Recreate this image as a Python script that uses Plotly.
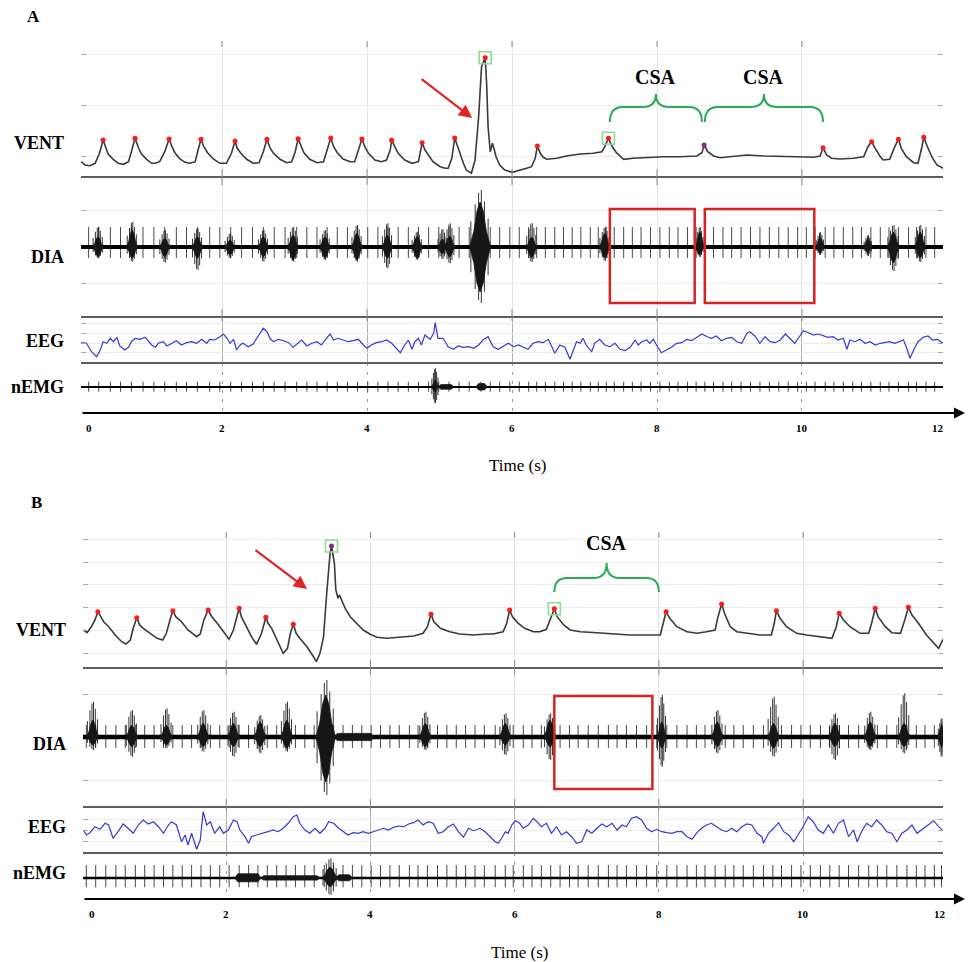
import plotly.graph_objects as go

W, H = 968, 962
SERIF = "Liberation Serif, Times New Roman, Times, serif"

# ================= DATA =================
grid_times = [2, 4, 6, 8, 10]
tick_text = ["0", "2", "4", "6", "8", "10", "12"]
tick_pos_a = [0.17, 2, 4, 6, 8, 10, 11.88]
tick_pos_b = [0.14, 2, 4, 6, 8, 10, 11.90]
span_a = [0.055, 11.945]
span_b = [0.014, 11.94]

# ---------- Panel A ----------
vent_a_t = [0.06,0.11,0.18,0.25,0.31,0.36,0.40,0.43,0.50,0.57,0.64,0.71,0.75,0.80,0.85,0.89,0.96,1.03,1.08,1.14,
            1.21,1.27,1.31,1.35,1.42,1.49,1.56,1.63,1.67,1.71,1.75,1.80,1.88,1.97,2.06,2.13,2.18,2.21,2.26,2.34,
            2.43,2.51,2.57,2.62,2.66,2.71,2.80,2.89,2.96,3.01,3.05,3.09,3.13,3.21,3.31,3.40,3.45,3.50,3.54,3.59,
            3.67,3.77,3.83,3.88,3.93,3.97,4.02,4.11,4.20,4.27,4.32,4.34,4.39,4.43,4.52,4.62,4.71,4.74,4.76,4.80,
            4.85,4.91,5.01,5.08,5.12,5.17,5.21,5.25,5.28,5.33,5.37,5.44,5.49,5.54,5.58,5.63,5.65,5.67,5.70,5.72,
            5.73,5.75,5.78,5.83,5.90,6.00,6.09,6.20,6.27,6.32,6.35,6.39,6.43,6.48,6.62,6.75,6.94,7.12,7.24,7.28,
            7.33,7.37,7.44,7.54,7.67,7.86,8.09,8.32,8.55,8.62,8.65,8.70,8.78,8.87,9.05,9.24,9.47,9.70,9.93,10.16,
            10.25,10.29,10.34,10.41,10.52,10.71,10.85,10.91,10.96,11.01,11.08,11.12,11.21,11.28,11.33,11.37,11.44,11.54,11.60,11.65,
            11.68,11.73,11.79,11.86,11.95]
vent_a_v = [15.3,12,11.3,13.7,23.7,37,28.7,23,17.7,13.7,12.7,15.3,25.3,38.7,28.7,23,17.7,13.7,13.7,15.3,
            25.3,38,30.3,24.3,18,14.7,13.7,15.3,27,37.7,30.3,24.3,18,13.7,13.7,23.7,36,28.7,23.7,17.7,
            13.7,14.3,25.3,37.7,29.7,23.7,17.7,14.3,15.3,25.3,38.3,30.3,24.3,17.7,14.3,15.3,27,39,30.3,24.3,
            18,15.3,15.3,27,38,30.3,23.7,17,15.3,17,27,36.7,30.3,23.7,17,13.7,15.3,25.3,34.3,27,
            22,15.3,10.3,8.7,8.7,18.7,39,30.3,25.3,13.7,7,3.7,17,60.3,110.3,119.3,93.7,50.3,25.3,30.3,
            33.7,28.7,20.3,12,7,4.7,6.3,8.7,10.3,18.7,31,23.7,19.7,17.7,18.7,21,23,23.7,25.3,30.3,
            38.7,32,24.3,17.7,18.7,19.7,20.3,20.3,21,24.3,32,25.3,21,19.3,20.3,22,21,20.3,20.3,19.7,
            21,29.3,22,18.7,18,18.7,20.3,30.3,35.3,28.7,20.3,17,17.7,30.3,37.7,28.7,20.3,14.3,13.7,28.7,
            39.7,30.3,20.3,12,8.7]
vent_a_peaks = [0.36,0.80,1.27,1.71,2.18,2.62,3.05,3.50,3.93,4.34,4.76,5.21,5.63,6.35,7.33,10.29,10.96,11.33,11.68]
vent_a_purple = [8.65]
vent_a_boxed = [5.63, 7.33]

dia_a_burst_t = [0.29,0.76,1.21,1.66,2.11,2.57,2.98,3.42,3.86,4.28,4.69,5.04,5.14,5.56,6.27,7.28,8.59,10.25,10.91,11.26,11.63]
dia_a_burst_w = [0.09,0.09,0.09,0.09,0.09,0.09,0.09,0.09,0.09,0.09,0.09,0.08,0.09,0.17,0.09,0.09,0.07,0.07,0.07,0.10,0.09]
dia_a_core_up = [10.3,17,8.7,10.3,7,10.3,12,10.3,13.7,12,10.3,8,11,45,10,13.7,15,10,8.3,15,15]
dia_a_core_dn = [9.7,11.3,9.7,11.3,8,9.7,13,11.3,13,11.3,11.3,7,10,45,11,11,8,6,6,16,11]
dia_a_hair_up = [20.3,25.3,17,18.7,13.7,17,20.3,17,22,23.7,15.3,18,23.7,57,24,20,20,15,12,22,22]
dia_a_hair_dn = [11.3,14.7,15.7,23,11.3,14.7,14.7,13,14.7,21.3,13,12,16.3,56,15,14,10,8,9,24,15]
dia_a_bands = []

beats_a = [0.16,0.30,0.46,0.60,0.75,0.91,1.06,1.21,1.37,1.51,1.66,1.83,1.97,2.12,2.27,2.42,2.57,2.72,2.87,3.03,
           3.17,3.31,3.45,3.59,3.73,3.87,4.01,4.15,4.29,4.43,4.57,4.71,4.85,4.99,5.13,5.27,5.41,5.57,5.70,5.83,
           5.97,6.10,6.23,6.34,6.46,6.59,6.71,6.83,6.95,7.08,7.19,7.30,7.41,7.54,7.66,7.78,7.91,8.04,8.17,8.29,
           8.42,8.54,8.66,8.78,8.91,9.03,9.16,9.29,9.42,9.55,9.68,9.81,9.94,10.06,10.18,10.32,10.44,10.57,10.70,10.82,
           10.95,11.08,11.20,11.33,11.47,11.58,11.71,11.83]
dia_a_spike = [20, 11]
emg_a_spike = [5.3, 4.7]

eeg_a_t = [0.06,0.13,0.20,0.27,0.32,0.36,0.41,0.46,0.50,0.55,0.59,0.66,0.71,0.75,0.80,0.87,0.94,0.98,1.03,1.08,
           1.12,1.19,1.24,1.31,1.37,1.44,1.51,1.58,1.65,1.72,1.79,1.83,1.90,1.97,2.02,2.07,2.11,2.16,2.20,2.25,
           2.29,2.36,2.43,2.48,2.52,2.57,2.62,2.66,2.71,2.78,2.85,2.92,2.98,3.05,3.10,3.17,3.24,3.31,3.37,3.44,
           3.49,3.54,3.60,3.67,3.74,3.81,3.88,3.95,4.00,4.06,4.13,4.20,4.27,4.34,4.41,4.46,4.52,4.57,4.62,4.66,
           4.71,4.75,4.80,4.87,4.92,4.94,4.98,5.05,5.12,5.19,5.26,5.33,5.40,5.47,5.54,5.60,5.67,
           5.74,5.81,5.88,5.95,6.02,6.09,6.16,6.22,6.29,6.36,6.43,6.50,6.55,6.59,6.66,6.73,6.80,6.85,6.89,6.94,
           6.98,7.03,7.10,7.14,7.21,7.28,7.35,7.42,7.49,7.56,7.63,7.70,7.74,7.79,7.86,7.90,7.95,8.00,8.06,8.13,
           8.20,8.27,8.34,8.41,8.48,8.55,8.62,8.69,8.75,8.82,8.89,8.96,9.03,9.10,9.17,9.24,9.28,9.35,9.42,9.49,
           9.56,9.63,9.70,9.77,9.83,9.90,9.97,10.02,10.09,10.16,10.22,10.29,10.36,10.43,10.50,10.57,10.62,10.66,10.73,10.80,
           10.87,10.94,11.01,11.08,11.14,11.21,11.28,11.35,11.40,11.44,11.49,11.54,11.60,11.67,11.74,11.80,11.87,11.94]
eeg_a_v = [0.3,-0.3,-8.7,-13.7,-7,1.3,-0.3,4.7,1.3,5.7,-3,-7,-4.3,1.3,4.7,3.7,5.7,2.3,-2,-4.3,
           -0.3,1.3,-3,-0.3,2.3,-2,0.3,1.3,-0.3,3.7,-0.3,3.7,3,6.3,9,4.7,-0.3,3.7,-7,-2,
           -0.3,-3.7,-1,4.7,9.7,14.7,11.3,4.7,1.3,3.7,2.3,0.3,-4.3,-0.3,3,-3,-0.3,1.3,-2,4.7,
           9,3,4.7,3,1.3,2.3,3.7,-2,-5.3,-2,0.3,1.3,3,-0.3,-5.3,-9.7,-2,3,-6.3,1.3,
           4.7,-2,8,3.7,9.7,20.3,4.7,4.7,-3.7,-6.3,-3,-4.3,-3.7,-5.3,-2,3,6.3,
           -3.7,-6.3,-3,-0.3,-3.7,-2,-4.3,-6.3,-0.3,1.3,0.3,3.7,-3.7,-10.3,-2,-4.3,-16.3,-7,1.3,-0.3,
           4.7,-3,-8.7,-0.3,3.7,-2,-3.7,-0.3,-6.3,-7.7,-4.3,3,-2,1.3,3,-0.3,3.7,-3,-9.7,-7,
           -4.3,-0.3,0.3,3.7,2.3,5.7,9,6.3,4.7,7,2.3,4.7,5.7,1.3,-0.3,9.7,11.3,7,-0.3,6.3,
           1.3,0.3,3,9,4.7,-0.3,7,12.3,10.3,8,9,7,5.7,6.3,3,4.7,-6.3,3,1.3,3.7,
           -0.3,1.3,-2,-0.3,0.3,1.3,-0.3,1.3,3,-4.3,-15.3,-7,1.3,5.7,7,3,3.7,-0.3]

emg_a_burst_t = [4.94]
emg_a_burst_w = [0.06]
emg_a_core_up = [7]
emg_a_core_dn = [5]
emg_a_hair_up = [18.7]
emg_a_hair_dn = [16.3]
emg_a_bands = [(4.98, 5.20, 2.4, 2.2), (5.50, 5.66, 3.4, 3.0)]

csa_a = [(7.35, 8.62), (8.66, 10.29)]
box_a = [(7.35, 8.52), (8.66, 10.17)]

# ---------- Panel B ----------
vent_b_t = [0.02,0.07,0.13,0.18,0.22,0.25,0.30,0.37,0.46,0.55,0.61,0.67,0.71,0.76,0.80,0.85,0.94,1.04,1.12,1.17,
            1.22,1.26,1.30,1.38,1.47,1.59,1.64,1.69,1.75,1.80,1.87,1.96,2.04,2.10,2.15,2.18,2.21,2.28,2.35,2.42,
            2.49,2.55,2.58,2.63,2.70,2.79,2.85,2.89,2.93,2.97,3.02,3.12,3.21,3.25,3.30,3.35,3.39,3.44,3.46,3.50,
            3.52,3.55,3.57,3.60,3.65,3.72,3.81,3.90,3.99,4.09,4.23,4.41,4.60,4.73,4.79,4.84,4.88,4.97,5.10,5.24,
            5.43,5.61,5.70,5.84,5.89,5.93,5.97,6.05,6.14,6.26,6.35,6.44,6.50,6.55,6.59,6.68,6.77,6.91,7.14,7.37,
            7.60,7.83,8.02,8.06,8.10,8.15,8.25,8.39,8.53,8.66,8.78,8.82,8.87,8.91,8.99,9.08,9.22,9.40,9.56,9.60,
            9.63,9.68,9.77,9.91,10.05,10.23,10.40,10.46,10.50,10.56,10.65,10.79,10.91,10.95,11.00,11.04,11.14,11.23,11.35,11.41,
            11.46,11.51,11.60,11.71,11.81,11.88,11.94]
vent_b_v = [38,35.3,41.3,48,56.3,52,46.3,41.3,33,26.3,24,28,39.7,50.3,43,39.7,35.3,29.7,28,34.7,
            48,57.3,51.3,46.3,38,31.3,34,48,58,51.3,45.3,36.3,28.7,38,51.3,59.7,51.3,41.3,31.3,23.7,
            34.7,50.7,44.7,39.7,28,14.7,19.7,34.7,43.7,34.7,29.7,21.3,11.3,6.3,14.7,31.3,71.3,114.7,122,104.7,
            78,69.7,73,68,59.7,51.3,44.7,38,34,30.7,29.7,30.7,32,34.7,41.3,53.7,46.3,39.7,36.3,34,
            33,34,34,36.3,44.7,58,51.3,44.7,39.7,36.3,36.3,38.7,49.7,59.3,51.3,43,38,36.3,35.3,34,
            33,33,33,44.7,56.3,49.7,41.3,36.3,34.7,36.3,38,51.3,64,54.7,41.3,36.3,34.7,33,33,44.7,
            57.3,49.7,41.3,34.7,33,31.3,29.7,41.3,54.7,48,41.3,34.7,34.7,44.7,59.7,51.3,41.3,35.3,34.7,48,
            60.7,53,44.7,33,24.7,19.7,28.7]
vent_b_peaks = [0.22,0.76,1.26,1.75,2.18,2.55,2.93,4.84,5.93,6.55,8.10,8.87,9.63,10.50,11.00,11.46]
vent_b_purple = [3.46]
vent_b_boxed = [3.46, 6.55]

dia_b_burst_t = [0.15,0.69,1.17,1.68,2.10,2.47,2.84,3.38,4.76,5.87,6.49,8.04,8.81,9.59,10.44,10.93,11.40,11.92]
dia_b_burst_w = [0.10,0.10,0.10,0.10,0.10,0.10,0.10,0.16,0.10,0.10,0.10,0.08,0.10,0.10,0.10,0.10,0.10,0.06]
dia_b_core_up = [17,12,12,13.7,13.7,15.3,17,42,13.7,13.7,17,15.3,15.3,13.7,13.7,15.3,13.7,12]
dia_b_core_dn = [8,9.7,8,9.7,9.7,9.7,11.3,45,9.7,8,9.7,11.3,9.7,11.3,9.7,9.7,9.7,9.7]
dia_b_hair_up = [35.3,27,28.7,27,25.3,22,35.3,57,25.3,23.7,23.7,42,27,40.3,23.7,25.3,43.7,18.7]
dia_b_hair_dn = [13,19.7,11.3,14.7,19.7,16.3,14.7,58,13,18,23,29.7,16.3,19.7,23,13,16.3,19.7]
dia_b_bands = [(3.50, 4.05, 3.6, 3.6)]

beats_b = [0.06,0.19,0.33,0.47,0.60,0.74,0.87,1.00,1.13,1.26,1.39,1.52,1.65,1.78,1.91,2.04,2.18,2.31,2.44,2.57,
           2.70,2.83,2.96,3.09,3.22,3.36,3.49,3.62,3.75,3.88,4.01,4.14,4.27,4.40,4.54,4.66,4.79,4.93,5.06,5.19,
           5.32,5.45,5.58,5.73,5.87,5.98,6.12,6.24,6.37,6.50,6.63,6.76,6.88,7.02,7.16,7.30,7.42,7.55,7.69,7.83,
           7.97,8.11,8.25,8.39,8.52,8.64,8.78,8.92,9.04,9.17,9.31,9.45,9.58,9.70,9.84,9.97,10.10,10.24,10.37,10.50,
           10.63,10.77,10.91,11.03,11.16,11.30,11.44,11.57,11.69,11.82,11.92]
dia_b_spike = [12, 11]
emg_b_spike = [13, 9.3]

eeg_b_t = [0.02,0.06,0.11,0.18,0.25,0.32,0.37,0.43,0.50,0.57,0.64,0.71,0.78,0.85,0.92,0.99,1.06,1.13,1.20,1.24,
           1.31,1.38,1.43,1.47,1.52,1.59,1.64,1.68,1.73,1.78,1.84,1.91,1.96,2.03,2.10,2.15,2.19,2.26,2.31,2.35,
           2.42,2.52,2.58,2.65,2.72,2.79,2.86,2.93,2.98,3.02,3.09,3.16,3.23,3.30,3.37,3.42,3.49,3.56,3.62,3.69,
           3.76,3.83,3.90,3.97,4.04,4.11,4.18,4.25,4.32,4.39,4.46,4.53,4.60,4.66,4.73,4.80,4.87,4.94,5.01,5.08,
           5.15,5.22,5.29,5.36,5.43,5.52,
           5.59,5.66,5.73,5.77,5.82,5.87,5.91,5.96,6.01,6.07,6.12,6.19,6.26,6.31,6.37,6.44,6.51,6.58,6.65,6.72,
           6.79,6.86,6.93,7.00,7.07,7.14,7.21,7.28,7.35,7.42,7.49,7.55,7.62,7.69,7.76,7.83,7.90,7.97,8.04,8.11,
           8.18,8.25,8.32,8.39,8.46,8.52,8.59,8.66,8.73,8.80,8.87,8.94,9.01,9.08,9.15,9.22,9.29,9.36,9.43,9.45,
           9.52,9.59,9.66,9.73,9.80,9.87,9.94,10.00,10.07,10.14,10.21,10.28,10.35,10.42,10.49,10.56,10.63,10.70,10.75,10.81,
           10.88,10.95,11.02,11.09,11.16,11.23,11.30,11.37,11.44,11.51,11.58,11.64,11.71,11.81,11.88,11.94]
eeg_b_v = [0,-5,-2.7,3.3,0.7,6.7,5,-8.3,-1.7,6,1.7,-3.3,5,10,6,8.3,3.3,-3.3,5,8.3,
           5,-11.7,-5,-15,-3.3,-19.3,-10,18.3,5,8.3,-3.3,3.3,-3.3,0,10,8.3,0,-6.7,-13.3,-6.7,
           -5,-3.3,-1.7,0,-1.7,1.7,6.7,13.3,15,6.7,0,-3.3,1.7,-3.3,1.7,8.3,6.7,1.7,-1.7,-5,
           -2.7,-3.3,-1.7,-3.3,-1.7,0,1.7,0,2.7,4,3.3,6,7.3,10,5,8.3,6.7,-3.3,-1.7,3.3,
           6,-1.7,-7.3,1.7,-0.7,1.7,
           -1.7,-6.7,-11.7,-13.3,-8.3,-1.7,-3.3,5,9.3,6.7,1.7,5,11.7,8.3,3.3,6.7,-3.3,3.3,-5,-1.7,
           -6.7,-13.3,-11.7,0,-3.3,1.7,6,3.3,6.7,0,5,3.3,11.7,13.3,10,1.7,-1.7,0.7,-1.7,-2.7,
           -3.3,-1.7,-1.7,-6.7,-9.3,-3.3,1.7,5,6.7,3.3,0,-1.7,1.7,-1.7,3.3,6,5,-3.3,-6.7,-13.3,
           -3.3,1.7,7.3,-1.7,-5,-11.7,-3.3,3.3,13.3,8.3,0,-3.3,5,-3.3,6.7,10,-6.7,0,-11.7,-1.7,
           6.7,3.3,10,5,-1.7,-3.3,-11.7,-3.3,0,5,-3.3,0,3.3,9.3,3.3,-0.7]

emg_b_burst_t = [3.44]
emg_b_burst_w = [0.13]
emg_b_core_up = [11]
emg_b_core_dn = [8.7]
emg_b_hair_up = [19.7]
emg_b_hair_dn = [17]
emg_b_bands = [(2.12, 2.48, 4.2, 3.8), (2.48, 3.30, 2.3, 2.1), (3.52, 3.75, 3.2, 2.8)]

csa_b = [(6.55, 8.00)]
box_b = [(6.55, 7.91)]

# ================= HELPERS =================
fig = go.Figure()


def sfx(n):
    return "" if n == 1 else str(n)


def interp(t, ts, vs):
    for i in range(len(ts) - 1):
        if ts[i] <= t <= ts[i + 1]:
            f = (t - ts[i]) / (ts[i + 1] - ts[i]) if ts[i + 1] != ts[i] else 0
            return vs[i] + f * (vs[i + 1] - vs[i])
    return vs[-1]


SPINDLE = [(-1.0, 0.0), (-0.6, 0.35), (-0.3, 0.8), (0.0, 1.0), (0.3, 0.8), (0.6, 0.35), (1.0, 0.0)]
HAIRS = [(-0.75, 0.45), (-0.4, 0.75), (-0.12, 0.95), (0.1, 1.0), (0.35, 0.8), (0.65, 0.5)]


def spindles(c_list, w_list, up, dn, bands):
    xs, ys = [], []
    for c, w, u, d in zip(c_list, w_list, up, dn):
        w = 0.85 * w
        xs += [c + o * w for o, _ in SPINDLE] + [c + o * w for o, _ in reversed(SPINDLE)] + [None]
        ys += [f * u for _, f in SPINDLE] + [-f * d for _, f in reversed(SPINDLE)] + [None]
    for t0, t1, u, d in bands:
        xs += [t0, t0 + 0.04, t1 - 0.04, t1, t1 - 0.04, t0 + 0.04, t0, None]
        ys += [0, u, u, 0, -d, -d, 0, None]
    return xs, ys


def hairs(c_list, w_list, up, dn):
    xs, ys = [], []
    for c, w, u, d in zip(c_list, w_list, up, dn):
        for o, f in HAIRS:
            xs += [c + o * w, c + o * w, None]
            ys += [f * u, -f * d, None]
    return xs, ys


def spikes(times, amp):
    xs, ys = [], []
    for t in times:
        xs += [t, t, None]
        ys += [amp[0], -amp[1], None]
    return xs, ys


def add(tr, n):
    tr.update(xaxis="x" + sfx(n), yaxis="y" + sfx(n), showlegend=False, hoverinfo="skip")
    fig.add_trace(tr)


def vent(n, ts, vs, peaks, purple, boxed):
    add(go.Scatter(x=ts, y=vs, mode="lines", line=dict(color="#3a3a3a", width=1.6)), n)
    add(go.Scatter(x=boxed, y=[interp(t, ts, vs) for t in boxed], mode="markers",
                   marker=dict(symbol="square-open", size=12, color="#8fdc8f", line=dict(width=1.6))), n)
    add(go.Scatter(x=peaks, y=[interp(t, ts, vs) for t in peaks], mode="markers",
                   marker=dict(size=5, color="#ff1a1a")), n)
    add(go.Scatter(x=purple, y=[interp(t, ts, vs) for t in purple], mode="markers",
                   marker=dict(size=5, color="#8a2a8a")), n)


def emgtrace(n, span, beats, amp, bt, bw, cu, cd, hu, hd, bands, base_w):
    x, y = spikes(beats, amp)
    add(go.Scatter(x=x, y=y, mode="lines", line=dict(color="#4a4a4a", width=1)), n)
    x, y = hairs(bt, bw, hu, hd)
    add(go.Scatter(x=x, y=y, mode="lines", line=dict(color="#1e1e1e", width=0.9)), n)
    add(go.Scatter(x=span, y=[0, 0], mode="lines", line=dict(color="black", width=base_w)), n)
    x, y = spindles(bt, bw, cu, cd, bands)
    add(go.Scatter(x=x, y=y, mode="lines", fill="toself", fillcolor="#161616",
                   line=dict(width=0.8, color="#161616")), n)


# ================= TRACES =================
vent(1, vent_a_t, vent_a_v, vent_a_peaks, vent_a_purple, vent_a_boxed)
emgtrace(2, span_a, beats_a, dia_a_spike, dia_a_burst_t, dia_a_burst_w, dia_a_core_up, dia_a_core_dn,
         dia_a_hair_up, dia_a_hair_dn, dia_a_bands, 4)
add(go.Scatter(x=eeg_a_t, y=eeg_a_v, mode="lines", line=dict(color="#3838d6", width=1.2)), 3)
emgtrace(4, span_a, beats_a, emg_a_spike, emg_a_burst_t, emg_a_burst_w, emg_a_core_up, emg_a_core_dn,
         emg_a_hair_up, emg_a_hair_dn, emg_a_bands, 2.2)

vent(5, vent_b_t, vent_b_v, vent_b_peaks, vent_b_purple, vent_b_boxed)
emgtrace(6, span_b, beats_b, dia_b_spike, dia_b_burst_t, dia_b_burst_w, dia_b_core_up, dia_b_core_dn,
         dia_b_hair_up, dia_b_hair_dn, dia_b_bands, 4.5)
add(go.Scatter(x=eeg_b_t, y=eeg_b_v, mode="lines", line=dict(color="#3838d6", width=1.2)), 7)
emgtrace(8, span_b, beats_b, emg_b_spike, emg_b_burst_t, emg_b_burst_w, emg_b_core_up, emg_b_core_dn,
         emg_b_hair_up, emg_b_hair_dn, emg_b_bands, 2.6)

# ================= LAYOUT =================
# n, x-extent px, x-range, top px, bottom px, y-range, gridvals, vgrid colour, vgrid dash
PANELS = [
    (1, (81, 943), span_a, 41, 177, (0, 136), [21, 72, 123], "#e2e2e2", "solid"),
    (2, (81, 943), span_a, 177, 317, (-70, 70), [37, -36], "#e2e2e2", "solid"),
    (3, (81, 943), span_a, 317, 363, (-20, 26), [20, 10, 0, -9], "#b0b0b0", "solid"),
    (4, (81, 943), span_a, 363, 413, (-26, 24), [], "#9a9a9a", "3px,6px"),
    (5, (83, 943), span_b, 532, 668, (0, 136), [15, 38, 61, 84, 106, 129], "#e2e2e2", "solid"),
    (6, (83, 943), span_b, 668, 807, (-70, 69), [43, -43], "#e2e2e2", "solid"),
    (7, (83, 943), span_b, 807, 853, (-23, 23), [11, 0, -11], "#b0b0b0", "solid"),
    (8, (83, 943), span_b, 853, 899, (-21, 25), [], "#9a9a9a", "3px,6px"),
]

layout = dict(width=W, height=H, margin=dict(l=0, r=0, t=0, b=0), paper_bgcolor="white",
              plot_bgcolor="white", autosize=False)
shapes, annotations = [], []

for n, (xl, xr), xrng, top, bot, yrng, gv, vcol, vdash in PANELS:
    layout["xaxis" + sfx(n)] = dict(domain=[xl / W, xr / W], range=list(xrng), anchor="y" + sfx(n),
                                    tickvals=grid_times, showgrid=True, gridcolor=vcol, griddash=vdash,
                                    gridwidth=1, showticklabels=False, ticks="", zeroline=False,
                                    showline=False, fixedrange=True)
    layout["yaxis" + sfx(n)] = dict(domain=[1 - bot / H, 1 - top / H], range=list(yrng),
                                    anchor="x" + sfx(n), tickvals=gv, showgrid=True, gridcolor="#ececec",
                                    ticks="inside" if gv else "", ticklen=5, tickcolor="#a8a8a8",
                                    showline=True, linecolor="rgba(0,0,0,0)", mirror="ticks",
                                    showticklabels=False, zeroline=False, fixedrange=True)

# separator lines
for (xl, xr), ys in [((81, 943), [177, 317, 363]), ((83, 943), [668, 807, 853])]:
    for yy in ys:
        shapes.append(dict(type="line", xref="paper", yref="paper", x0=xl / W, x1=xr / W,
                           y0=1 - yy / H, y1=1 - yy / H, line=dict(color="#5e5e5e", width=2)))

# small grid tick marks crossing the separators
for xn, marks in [("x", [(41, 47), (169, 185), (309, 321)]), ("x5", [(532, 538), (660, 675), (799, 810)])]:
    for t in grid_times:
        for y0, y1 in marks:
            shapes.append(dict(type="line", xref=xn, yref="paper", x0=t, x1=t, y0=1 - y0 / H, y1=1 - y1 / H,
                               line=dict(color="#8a8a8a", width=1)))

# time axes with arrows
for xl, yy in [(81, 413), (83, 899)]:
    annotations.append(dict(x=965 / W, y=1 - yy / H, xref="paper", yref="paper", ax=-(965 - xl), ay=0,
                            text="", showarrow=True, arrowhead=2, arrowsize=1.1, arrowwidth=2,
                            arrowcolor="black", standoff=0))

# tick labels
for xn, pos, yy in [("x4", tick_pos_a, 428), ("x8", tick_pos_b, 914)]:
    for p, txt in zip(pos, tick_text):
        annotations.append(dict(x=p, y=1 - yy / H, xref=xn, yref="paper", text="<b>%s</b>" % txt,
                                showarrow=False, xanchor="center", yanchor="middle",
                                font=dict(family=SERIF, size=11, color="black")))


def lab(text, x, y, size, anchor="right", bold=True):
    annotations.append(dict(x=x / W, y=1 - y / H, xref="paper", yref="paper",
                            text="<b>%s</b>" % text if bold else text, showarrow=False,
                            xanchor=anchor, yanchor="middle",
                            font=dict(family=SERIF, size=size, color="black")))


lab("A", 33, 16, 17, "center")
lab("B", 36, 503, 17, "center")
for txt, y in [("VENT", 143), ("DIA", 257), ("EEG", 341), ("nEMG", 387)]:
    lab(txt, 66, y, 18)
for txt, y in [("VENT", 630), ("DIA", 744), ("EEG", 827), ("nEMG", 873)]:
    lab(txt, 68, y, 18)
lab("Time (s)", 517, 465, 17, "center", bold=False)
lab("Time (s)", 519, 952, 17, "center", bold=False)

# red arrows pointing at the sighs
annotations.append(dict(x=5.45, y=59, xref="x", yref="y", ax=-52, ay=-40, text="", showarrow=True,
                        arrowhead=2, arrowsize=1.2, arrowwidth=2.2, arrowcolor="#e02424", standoff=0))
annotations.append(dict(x=3.12, y=79, xref="x5", yref="y5", ax=-53, ay=-40, text="", showarrow=True,
                        arrowhead=2, arrowsize=1.2, arrowwidth=2.2, arrowcolor="#e02424", standoff=0))


def brace(x0, x1, y_end, y_mid, y_top, r):
    xm = (x0 + x1) / 2
    return ("M {a},{e} Q {a},{m} {b},{m} L {c},{m} Q {xm},{m} {xm},{t} Q {xm},{m} {d},{m} "
            "L {f},{m} Q {g},{m} {g},{e}").format(a=x0, e=y_end, m=y_mid, b=x0 + r, c=xm - r, xm=xm,
                                                   t=y_top, d=xm + r, f=x1 - r, g=x1)


for (x0, x1) in csa_a:
    shapes.append(dict(type="path", xref="x", yref="y", path=brace(x0, x1, 55, 70, 83, 0.18),
                       line=dict(color="#2ea85a", width=2)))
    annotations.append(dict(x=(x0 + x1) / 2, y=100, xref="x", yref="y", text="<b>CSA</b>", showarrow=False,
                            font=dict(family=SERIF, size=20, color="black")))
for (x0, x1) in csa_b:
    shapes.append(dict(type="path", xref="x5", yref="y5", path=brace(x0, x1, 76, 90, 105, 0.18),
                       line=dict(color="#2ea85a", width=2)))
    annotations.append(dict(x=(x0 + x1) / 2, y=125, xref="x5", yref="y5", text="<b>CSA</b>", showarrow=False,
                            font=dict(family=SERIF, size=20, color="black")))

for (x0, x1) in box_a:
    shapes.append(dict(type="rect", xref="x2", yref="y2", x0=x0, x1=x1, y0=-56, y1=38,
                       line=dict(color="#d42424", width=2.5)))
for (x0, x1) in box_b:
    shapes.append(dict(type="rect", xref="x6", yref="y6", x0=x0, x1=x1, y0=-52, y1=41,
                       line=dict(color="#d42424", width=2.5)))

layout["shapes"] = shapes
layout["annotations"] = annotations
fig.update_layout(**layout)
fig.write_html("out.html", config={"displayModeBar": False},
               post_script="document.body.style.margin='0px';document.body.style.padding='0px';")
